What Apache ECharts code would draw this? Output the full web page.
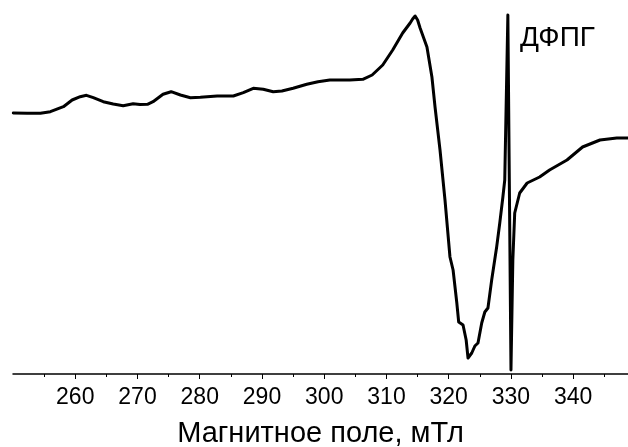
<!DOCTYPE html>
<html>
<head>
<meta charset="utf-8">
<script src="https://cdn.jsdelivr.net/npm/echarts@6/dist/echarts.min.js"></script>
<style>
html,body{margin:0;padding:0;background:#fff;}
#chart{width:628px;height:447px;}
</style>
</head>
<body>
<div id="chart"></div>
<script>
// Magnetic field, mT
const field = [250.05,252.3,254.4,256.0,258.1,259.5,260.8,261.8,262.9,264.5,266.1,267.7,269.3,270.4,271.6,272.5,274.1,275.4,276.9,278.5,280.1,282.8,285.4,287.0,288.6,290.2,291.8,293.2,295.0,297.2,299.0,300.9,304.1,306.2,307.7,309.4,311.0,312.6,313.8,314.2,314.6,315.0,315.4,316.5,317.3,317.8,318.6,319.4,320.2,320.7,321.3,321.6,322.3,322.8,323.1,323.4,323.7,324.2,324.7,325.3,325.8,326.3,326.9,327.7,328.2,328.7,329.0,329.5,330.0,330.3,330.6,331.4,332.6,334.6,336.2,339.0,341.5,344.3,347.0,348.8];
// EPR signal, arbitrary units
const signal = [261,260.7,260.7,262.3,267.3,274,277.3,278.7,276.3,272.3,270,268.3,270.3,269.5,269.7,272.3,279.7,282.3,279,276.3,276.7,278,278,281.3,285.7,284.7,282.3,283,285.7,289.7,292.3,294,294,294.7,299,309,324,341,351,355,358,354,346,327,297,267,224,174,117,104,71,52,49,34,16,14,21,28,31,51,62,66,94,127,151,177,194,359,4,114,161,181,191,197,204,214,227,234,236,236];
const majorTicks = [260,270,280,290,300,310,320,330,340];
const minorTicks = [255,265,275,285,295,305,315,325,335,345];
const xName = 'Магнитное поле, мТл';
const dpphLabel = 'ДФПГ';

const data = field.map((f,i)=>[f,signal[i]]);
const chart = echarts.init(document.getElementById('chart'), null, {renderer:'canvas'});
const font = 'Liberation Sans, Arial, sans-serif';
chart.setOption({
  animation:false,
  backgroundColor:'#fff',
  grid:{left:13,right:0,top:0,bottom:73,containLabel:false,outerBoundsMode:'none'},
  xAxis:[{
    type:'value', min:250, max:348.8, interval:10,
    name:xName, nameLocation:'middle', nameGap:45,
    nameTextStyle:{fontFamily:font,fontSize:29,color:'#000'},
    axisLine:{show:true,lineStyle:{color:'#000',width:1.5}},
    axisTick:{show:true,length:5,lineStyle:{color:'#000',width:1},customValues:majorTicks},
    axisLabel:{show:true,fontFamily:font,fontSize:23,color:'#000',margin:12,customValues:majorTicks},
    splitLine:{show:false}
  },{
    type:'value', min:250, max:348.8, position:'bottom',
    axisLine:{show:false},
    axisTick:{show:true,length:3,lineStyle:{color:'#000',width:1},customValues:minorTicks},
    axisLabel:{show:false},
    splitLine:{show:false}
  }],
  yAxis:{type:'value',min:0,max:374,show:false,splitLine:{show:false}},
  series:[{
    type:'line', xAxisIndex:0, data:data, showSymbol:false, symbol:'none',
    lineStyle:{color:'#000',width:3,join:'round',cap:'round'}, smooth:false
  }],
  graphic:[{type:'text',left:520,top:24,style:{text:dpphLabel,fontFamily:font,fontSize:28,fill:'#000'}}]
});
</script>
</body>
</html>
